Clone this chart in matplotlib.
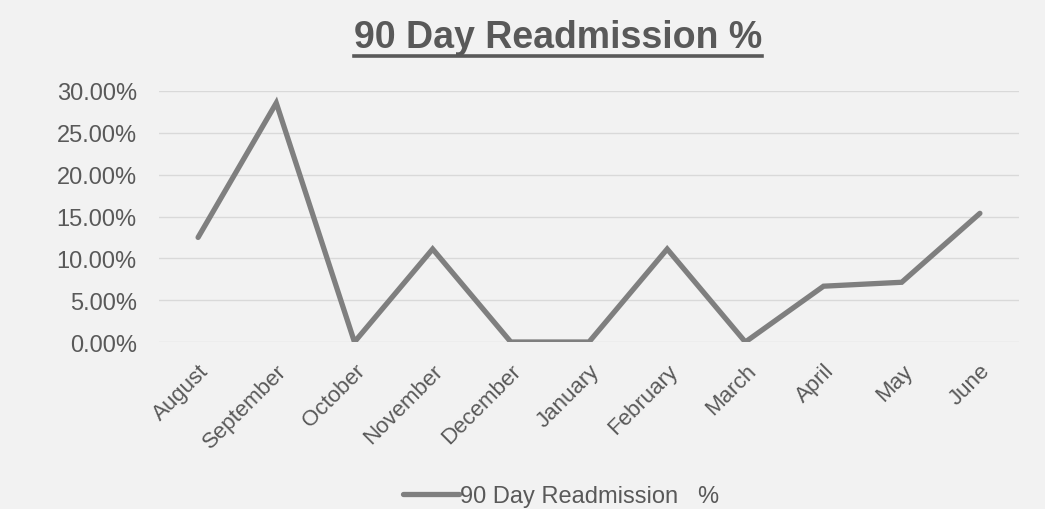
import matplotlib
matplotlib.use("Agg")
import matplotlib.pyplot as plt
from matplotlib.ticker import FuncFormatter

months = ["August", "September", "October", "November", "December", "January",
          "February", "March", "April", "May", "June"]
readmission_pct = [12.5, 28.57, 0.0, 11.11, 0.0, 0.0, 11.11, 0.0, 6.67, 7.14, 15.38]
yticks = [0, 5, 10, 15, 20, 25, 30]
title = "90 Day Readmission %"
legend_label = "90 Day Readmission   %"

plt.rcParams['font.family'] = ['Liberation Sans', 'DejaVu Sans']
bg = "#F2F2F2"
txt = "#595959"

fig = plt.figure(figsize=(10.45, 5.10), dpi=100, facecolor=bg)
ax = fig.add_axes([159/1045, 1 - 343/510, (1019 - 159)/1045, (343 - 92)/510])
ax.set_facecolor(bg)

x = list(range(len(months)))
line, = ax.plot(x, readmission_pct, color="#7F7F7F", linewidth=3.8,
                solid_joinstyle="miter", solid_capstyle="round", label=legend_label, zorder=3)

ax.set_xlim(-0.5, len(months) - 0.5)
ax.set_ylim(0, 30)
ax.set_yticks(yticks)
ax.yaxis.set_major_formatter(FuncFormatter(lambda v, p: f"{v:.2f}%"))
ax.grid(axis="y", color="#D9D9D9", linewidth=1.0, zorder=0)
for s in ax.spines.values():
    s.set_visible(False)
ax.tick_params(axis="y", length=0, colors=txt, labelsize=17, pad=16)
ax.set_xticks(x)
ax.set_xticklabels(months, rotation=45, ha="right", va="top", rotation_mode="anchor")
ax.tick_params(axis="x", length=0, colors=txt, labelsize=16, pad=13)

fig.text(558/1045, 1 - 38/510, title, ha="center", va="center", fontsize=27,
         fontweight="bold", color=txt)
t = fig.texts[0]
fig.canvas.draw()
bb = t.get_window_extent()
fig.add_artist(plt.Line2D([bb.x0/1045, bb.x1/1045], [(bb.y0 - 1)/510, (bb.y0 - 1)/510],
                          color=txt, linewidth=2.6, transform=fig.transFigure))

leg = fig.legend(handles=[line], loc="center", bbox_to_anchor=(561/1045, 1 - 497/510),
                 frameon=False, fontsize=17, handlelength=2.4, handletextpad=0.05,
                 labelcolor=txt)

fig.savefig("out.png", dpi=100, facecolor=bg)
